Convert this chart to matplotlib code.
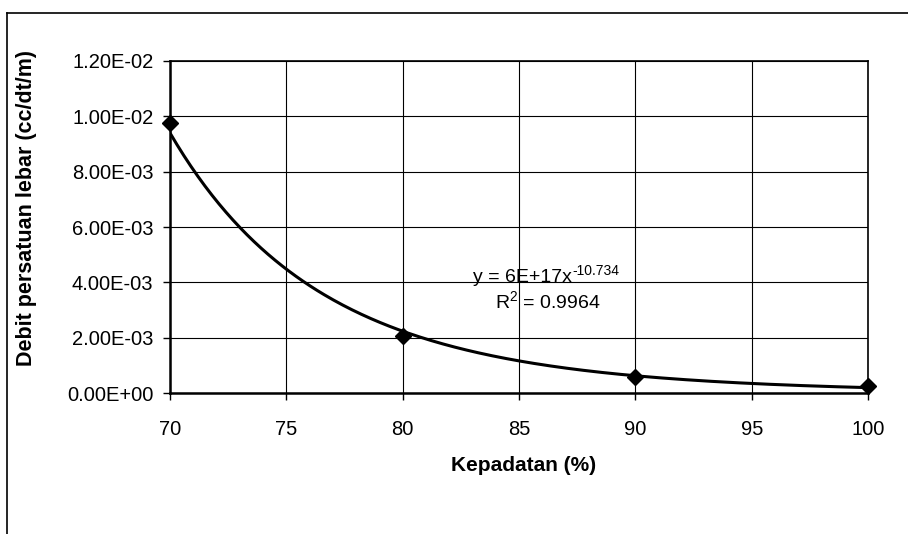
import numpy as np
import matplotlib
matplotlib.use("Agg")
import matplotlib.pyplot as plt
from matplotlib.lines import Line2D
from matplotlib.ticker import FuncFormatter

plt.rcParams['font.family'] = ['Liberation Sans', 'DejaVu Sans']
plt.rcParams['mathtext.fontset'] = 'custom'
plt.rcParams['mathtext.rm'] = 'Liberation Sans'

# Measured discharge per unit width vs. compaction
kepadatan = [70, 80, 90, 100]
debit = [9.75e-3, 2.05e-3, 5.8e-4, 2.7e-4]

# Power trendline y = a * x^b
fit_a = 6e17
fit_b = -10.734
fit_r2 = 0.9964

x_ticks = [70, 75, 80, 85, 90, 95, 100]
y_ticks = [0, 2e-3, 4e-3, 6e-3, 8e-3, 1e-2, 1.2e-2]

fig = plt.figure(figsize=(9.08, 5.34), dpi=100)
ax = fig.add_axes([0.1872, 0.2635, 0.7688, 0.6228])

xs = np.linspace(kepadatan[0], kepadatan[-1], 300)
ax.plot(xs, fit_a * xs ** fit_b, color='black', lw=2.2, zorder=3)
ax.plot(kepadatan, debit, linestyle='none', marker='D', markersize=8,
        color='black', zorder=4, clip_on=False)

ax.set_xlim(70, 100)
ax.set_ylim(0, 1.2e-2)
ax.set_xticks(x_ticks)
ax.set_yticks(y_ticks)
ax.yaxis.set_major_formatter(FuncFormatter(lambda v, p: f"{v:.2E}"))
ax.grid(True, color='black', lw=0.8)
ax.set_axisbelow(True)
for s in ax.spines.values():
    s.set_color('black')
    s.set_linewidth(1.2)
ax.spines['bottom'].set_linewidth(1.8)
ax.spines['left'].set_linewidth(1.8)

ax.tick_params(axis='y', direction='out', length=5, width=1, pad=7,
               labelsize=14.5, colors='black')
ax.tick_params(axis='x', direction='out', length=5, width=1, pad=14,
               labelsize=14.5, colors='black')

ax.set_xlabel('Kepadatan (%)', fontsize=15, fontweight='bold')
ax.set_ylabel('Debit persatuan lebar (cc/dt/m)', fontsize=15.5, fontweight='bold')
ax.xaxis.set_label_coords(0.507, -0.2186)
ax.xaxis.label.set_va('center')
ax.yaxis.set_label_coords(-0.206, 0.556)
ax.yaxis.label.set_va('center')

# Trendline equation and coefficient of determination
eq = fig.text(0.5209, 0.4719, 'y = 6E+17x', ha='left', va='baseline', fontsize=14)
ax.annotate(f"{fit_b:g}", xy=(1, 0), xycoords=eq, xytext=(0.5, 8),
            textcoords='offset points', ha='left', va='baseline', fontsize=10)
fig.text(0.6035, 0.4345, r'R$^{\mathregular{2}}$ = %s' % f"{fit_r2:g}",
         ha='center', va='center', fontsize=14)

# Chart-area border (left and top edges)
fig.add_artist(Line2D([0.0077, 0.0077], [0.0, 0.9757], transform=fig.transFigure,
                      color='black', lw=1.2))
fig.add_artist(Line2D([0.0077, 1.0], [0.9757, 0.9757], transform=fig.transFigure,
                      color='black', lw=1.2))

fig.savefig('out.png', dpi=100)
